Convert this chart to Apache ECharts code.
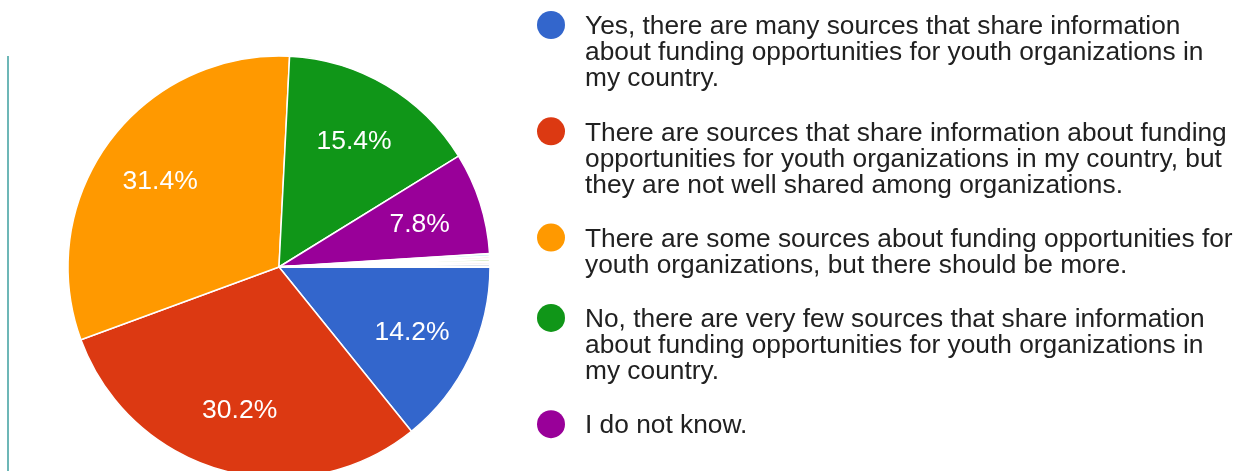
<!DOCTYPE html>
<html>
<head>
<meta charset="utf-8">
<style>
  html, body { margin: 0; padding: 0; background: #ffffff; }
  #chart { width: 1250px; height: 471px; }
</style>
<script src="https://cdn.jsdelivr.net/npm/echarts@6/dist/echarts.min.js"></script>
</head>
<body>
<div id="chart"></div>
<script>
// Answer options, in the order the slices are drawn (clockwise from 3 o'clock)
const categories = [
  'Yes, there are many sources that share information about funding opportunities for youth organizations in my country.',
  'There are sources that share information about funding opportunities for youth organizations in my country, but they are not well shared among organizations.',
  'There are some sources about funding opportunities for youth organizations, but there should be more.',
  'No, there are very few sources that share information about funding opportunities for youth organizations in my country.',
  'I do not know.'
];
// Share of responses (%)
const shares = [14.2, 30.2, 31.4, 15.4, 7.8];

// Single write-in answers that make up the remaining sliver
const otherNames = ['Other A', 'Other B', 'Other C', 'Other D', 'Other E'];
const otherShares = [0.2, 0.2, 0.2, 0.2, 0.2];

// Legend text, wrapped the way it is laid out beside the pie
const legendLines = [
  ['Yes, there are many sources that share information', 'about funding opportunities for youth organizations in', 'my country.'],
  ['There are sources that share information about funding', 'opportunities for youth organizations in my country, but', 'they are not well shared among organizations.'],
  ['There are some sources about funding opportunities for', 'youth organizations, but there should be more.'],
  ['No, there are very few sources that share information', 'about funding opportunities for youth organizations in', 'my country.'],
  ['I do not know.']
];

const colors = ['#3366cc', '#dc3912', '#ff9900', '#109618', '#990099'];
const otherColors = ['#b8dff0', '#f3c4d3', '#cfe6b3', '#e7bcbc', '#bcc9e3'];

const FONT = '"Liberation Sans", Arial, sans-serif';
const CX = 279, CY = 267, R = 211;

const pieData = categories.map((name, i) => ({
  name: name,
  value: shares[i],
  itemStyle: { color: colors[i], borderColor: '#ffffff', borderWidth: 1.5 }
})).concat(otherNames.map((name, i) => ({
  name: name,
  value: otherShares[i],
  itemStyle: { color: otherColors[i], borderColor: '#ffffff', borderWidth: 2 },
  label: { show: false }
})));

// Legend: colour dot aligned with the first line of each wrapped answer
const legendGraphics = [];
const LINE_H = 26, ITEM_GAP = 28.3;
let lineCenter = 27;
legendLines.forEach((lines, i) => {
  legendGraphics.push({
    type: 'circle',
    shape: { cx: 551, cy: lineCenter - 2, r: 14 },
    style: { fill: colors[i] },
    silent: true
  });
  legendGraphics.push({
    type: 'text',
    x: 585,
    y: lineCenter - LINE_H / 2,
    style: {
      text: lines.join('\n'),
      font: '26.3px ' + FONT,
      fill: '#212121',
      lineHeight: LINE_H,
      align: 'left', verticalAlign: 'top',
      textAlign: 'left', textVerticalAlign: 'top'
    },
    silent: true
  });
  lineCenter += lines.length * LINE_H + ITEM_GAP;
});

// Thin rule at the left edge of the card
legendGraphics.push({
  type: 'line',
  shape: { x1: 8, y1: 56, x2: 8, y2: 471 },
  style: { stroke: '#3d9f9f', lineWidth: 1.5 },
  silent: true
});

const chart = echarts.init(document.getElementById('chart'), null, { renderer: 'canvas' });
chart.setOption({
  backgroundColor: '#ffffff',
  animation: false,
  graphic: { elements: legendGraphics },
  series: [
    {
      type: 'pie',
      center: [CX, CY],
      radius: [0, R],
      startAngle: 0,
      clockwise: true,
      silent: true,
      label: { show: false },
      labelLine: { show: false },
      emphasis: { disabled: true },
      data: pieData
    },
    {
      // Transparent ring that carries the percentage labels further out in each slice
      type: 'pie',
      center: [CX, CY],
      radius: [R * 0.37, R],
      startAngle: 0,
      clockwise: true,
      silent: true,
      itemStyle: { color: 'transparent', borderWidth: 0 },
      label: {
        show: true,
        position: 'inside',
        color: '#ffffff',
        fontFamily: FONT,
        fontSize: 26.5,
        offset: [0, 2],
        formatter: p => p.value.toFixed(1) + '%'
      },
      labelLine: { show: false },
      emphasis: { disabled: true },
      data: pieData.map(d => ({
        name: d.name,
        value: d.value,
        itemStyle: { color: 'transparent', borderWidth: 0 },
        label: d.label
      }))
    }
  ]
});
</script>
</body>
</html>
